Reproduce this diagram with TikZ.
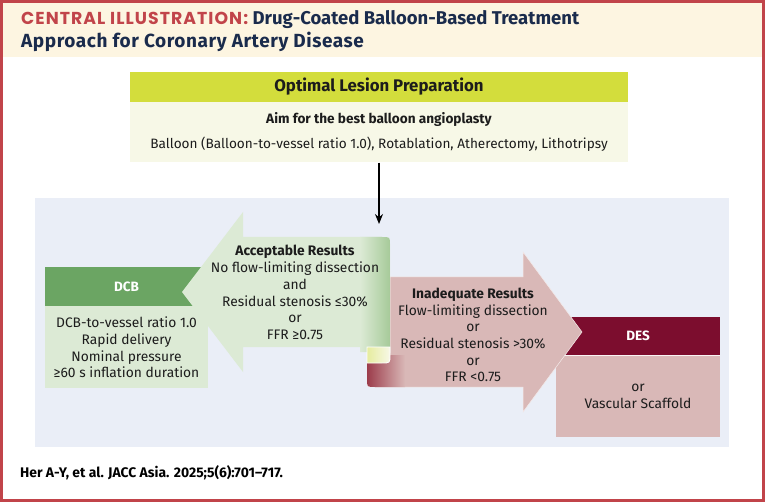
\documentclass[tikz,border=0pt]{standalone}
\usepackage{fontspec}
\setmainfont{Fira Sans}
\newfontfamily\capsfont[LetterSpace=6]{Poppins}
\usetikzlibrary{
  arrows.meta,
  positioning
}

\definecolor{framered}{HTML}{C1444A}
\definecolor{cream}{HTML}{FDF5E1}
\definecolor{titlenavy}{HTML}{1A2B4C}
\definecolor{lime}{HTML}{D3DD3C}
\definecolor{paleyellow}{HTML}{F7F8E7}
\definecolor{panelblue}{HTML}{EAEEF7}
\definecolor{accgreen}{HTML}{DCEAD5}
\definecolor{edgegreen}{HTML}{A6CA99}
\definecolor{dcbgreen}{HTML}{6BA563}
\definecolor{inadpink}{HTML}{D9B8B7}
\definecolor{curlred}{HTML}{9C3C4B}
\definecolor{curlyellow}{HTML}{E6EC9E}
\definecolor{desred}{HTML}{7C0D2E}
\definecolor{inktext}{HTML}{1C1C1C}

\begin{document}
\begin{tikzpicture}[x=1pt,y=-1pt,
  box/.style={rectangle, inner sep=0pt, align=center, text=inktext},
  bodytext/.style={font=\fontsize{13.8}{16.7}\selectfont, text=inktext, align=center, inner sep=0pt},
  headtext/.style={font=\bfseries\fontsize{13.5}{16}\selectfont, text=white},
  titletext/.style={anchor=base west, inner sep=0pt, text=titlenavy, font=\bfseries\fontsize{19}{23}\selectfont}
]
\useasboundingbox (0,0) rectangle (765,502);

% frame and title band
\fill[white] (0,0) rectangle (765,502);
\fill[cream] (2,2) rectangle (763,57);
\draw[framered, line width=3pt] (1.5,1.5) rectangle (763.5,500.5);

\node[titletext] (title-a) at (21,25)
  {{\capsfont\fontsize{17.3}{23}\selectfont\color{framered}CENTRAL ILLUSTRATION:}\ {\fontsize{18.5}{23}\selectfont Drug-Coated Balloon-Based Treatment}};
\node[titletext] (title-b) at (21,48)
  {\addfontfeatures{LetterSpace=3}Approach for Coronary Artery Disease};

% lesion preparation
\node[box, fill=lime, minimum width=498pt, minimum height=30pt, font=\bfseries\fontsize{16.8}{18}\selectfont] (prep-head) at (379,87)
  {Optimal Lesion Preparation};
\node[box, fill=paleyellow, minimum width=498pt, minimum height=60pt, font=\fontsize{13.6}{25}\selectfont, below=0pt of prep-head] (prep-body)
  {\textbf{Aim for the best balloon angioplasty}\\Balloon (Balloon-to-vessel ratio 1.0), Rotablation, Atherectomy, Lithotripsy};

% decision panel
\node[rectangle, fill=panelblue, minimum width=694pt, minimum height=249pt, inner sep=0pt] (panel) at (382,322.5) {};

\node[box, fill=dcbgreen, minimum width=163pt, minimum height=39pt, headtext] (dcb-head) at (126.5,286.5) {DCB};
\node[box, fill=accgreen, minimum width=163pt, minimum height=82pt, bodytext, below=0pt of dcb-head] (dcb-body)
  {DCB-to-vessel ratio 1.0\\Rapid delivery\\Nominal pressure\\≥60 s inflation duration};

\node[box, fill=desred, minimum width=164pt, minimum height=38pt, headtext] (des-head) at (638,336) {DES};
\node[box, fill=inadpink, minimum width=164pt, minimum height=82pt, bodytext, below=0pt of des-head] (des-body)
  {or\\Vascular Scaffold};
\draw[white!85!inadpink, line width=0.8pt] (des-head.south west) -- (des-head.south east);

% inadequate arrow with its curl
\fill[inadpink, draw=white!70!inadpink, line width=0.5pt] (390,277) -- (523,277) -- (523,252) -- (582,332) -- (523,412) -- (523,387)
  -- (375,387) .. controls (367,387) .. (367,379) -- (367,363) -- (390,353) -- cycle;
\shade[left color=curlred, right color=inadpink] (367,355) -- (405,355) -- (405,387)
  -- (375,387) .. controls (367,387) .. (367,379) -- cycle;

% acceptable arrow
\fill[accgreen] (182,292) -- (243,212) -- (243,237) -- (382,237) .. controls (390,237) .. (390,245)
  -- (390,352) -- (367,352) -- (367,347) -- (243,347) -- (243,372) -- cycle;
\shade[left color=accgreen, right color=edgegreen] (360,237) -- (382,237) .. controls (390,237) .. (390,245)
  -- (390,352) -- (360,352) -- cycle;
\shade[left color=curlyellow, right color=paleyellow, draw=white, line width=0.8pt] (367,347) -- (390,347) -- (390,355)
  .. controls (390,363) .. (382,363) -- (367,363) -- cycle;

\node[bodytext] (accept) at (295,292.5)
  {\textbf{Acceptable Results}\\No flow-limiting dissection\\and\\Residual stenosis ≤30\%\\or\\FFR ≥0.75};
\node[bodytext] (inadequate) at (473,335)
  {\textbf{Inadequate Results}\\Flow-limiting dissection\\or\\Residual stenosis >30\%\\or\\FFR <0.75};

\coordinate (accept-top) at (379,224);
\draw[line width=1.3pt, -{Stealth[length=10pt,width=8pt]}] (prep-body.south) -- (accept-top);

% citation
\node[anchor=base west, inner sep=0pt, text=black, font=\bfseries\fontsize{13.9}{17}\selectfont] (citation) at (20,477)
  {Her A-Y, et al. JACC Asia. 2025;5(6):701--717.};
\end{tikzpicture}
\end{document}
